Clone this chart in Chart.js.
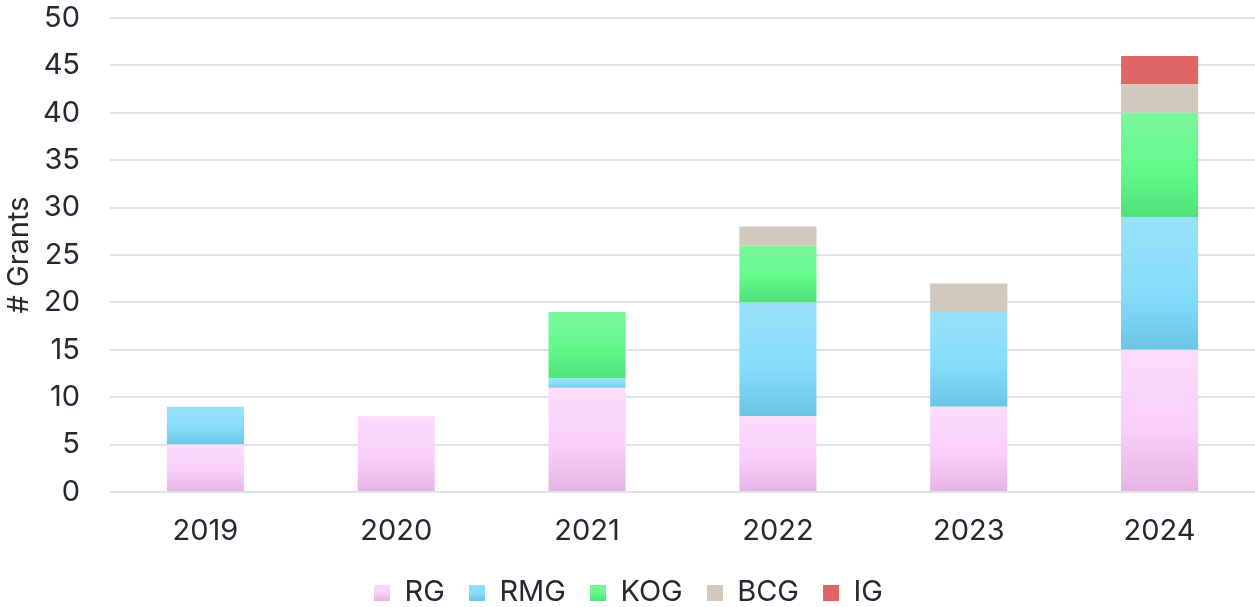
<!DOCTYPE html>
<html>
<head>
<meta charset="utf-8">
<script src="https://cdn.jsdelivr.net/npm/chart.js@4"></script>
<style>
  html, body { margin: 0; padding: 0; background: #fff; }
  #wrap { width: 1255px; height: 607px; }
</style>
</head>
<body>
<div id="wrap"><canvas id="grants"></canvas></div>
<script>
const years = ['2019', '2020', '2021', '2022', '2023', '2024'];
const rg  = [5, 8, 11, 8, 9, 15];
const rmg = [4, 0, 1, 12, 10, 14];
const kog = [0, 0, 7, 6, 0, 11];
const bcg = [0, 0, 0, 2, 3, 3];
const ig  = [0, 0, 0, 0, 0, 3];

const series = [rg, rmg, kog, bcg, ig];
// top colour, middle, bottom
const palette = [
  ['#fcdcfb', '#f9cffb', '#e6b3e3'],
  ['#98e0f8', '#85ddfa', '#6bc6e5'],
  ['#7cf59b', '#62f98b', '#4fe37a'],
  ['#d2c8bd', '#d2c8bd', '#d2c8bd'],
  ['#e06666', '#e06666', '#e06666']
];

function segFill(ctx, di) {
  const chart = ctx.chart;
  const y = chart.scales.y;
  const c = palette[di];
  if (!y || ctx.dataIndex === undefined) return c[1];
  const i = ctx.dataIndex;
  let base = 0;
  for (let k = 0; k < di; k++) base += series[k][i];
  const top = y.getPixelForValue(base + series[di][i]);
  const bot = y.getPixelForValue(base);
  if (!isFinite(top) || !isFinite(bot) || top === bot) return c[1];
  const g = chart.ctx.createLinearGradient(0, top, 0, bot);
  g.addColorStop(0, c[0]);
  g.addColorStop(0.55, c[1]);
  g.addColorStop(1, c[2]);
  return g;
}

function legendSwatch(c) {
  const cv = document.createElement('canvas');
  cv.width = 16; cv.height = 16;
  const x = cv.getContext('2d');
  const g = x.createLinearGradient(0, 0, 0, 16);
  g.addColorStop(0, c[0]); g.addColorStop(0.55, c[1]); g.addColorStop(1, c[2]);
  x.fillStyle = g;
  x.fillRect(0, 0, 16, 16);
  return cv;
}

const names = ['RG', 'RMG', 'KOG', 'BCG', 'IG'];
const datasets = series.map((d, di) => ({
  label: names[di],
  data: d,
  backgroundColor: ctx => segFill(ctx, di),
  borderWidth: 0,
  pointStyle: legendSwatch(palette[di]),
  barPercentage: 0.8,
  categoryPercentage: 0.505
}));

const font = { family: 'Inter, "Noto Sans", sans-serif', size: 29 };

new Chart(document.getElementById('grants'), {
  type: 'bar',
  data: { labels: years, datasets: datasets },
  options: {
    responsive: true,
    maintainAspectRatio: false,
    animation: false,
    layout: { padding: { top: 0, right: 0, left: 2, bottom: -10 } },
    plugins: {
      tooltip: { enabled: false },
      legend: {
        position: 'bottom',
        labels: {
          usePointStyle: true,
          boxWidth: 16,
          boxHeight: 16,
          padding: 24,
          color: '#222a30',
          font: font
        }
      }
    },
    scales: {
      x: {
        stacked: true,
        grid: { display: false },
        border: { display: false },
        ticks: { color: '#222a30', font: font, padding: 14 },
        afterFit: s => { s.height = 62; }
      },
      y: {
        stacked: true,
        min: 0,
        max: 50,
        ticks: { stepSize: 5, color: '#222a30', font: font, padding: 30 },
        grid: { color: '#dde3e6', lineWidth: 2, drawTicks: false },
        border: { display: false },
        title: { display: true, text: '# Grants', color: '#222a30', font: font, padding: 0 },
        afterFit: s => { s.width = 108; s.paddingTop = 18; s.paddingBottom = 0; }
      }
    }
  }
});
</script>
</body>
</html>
